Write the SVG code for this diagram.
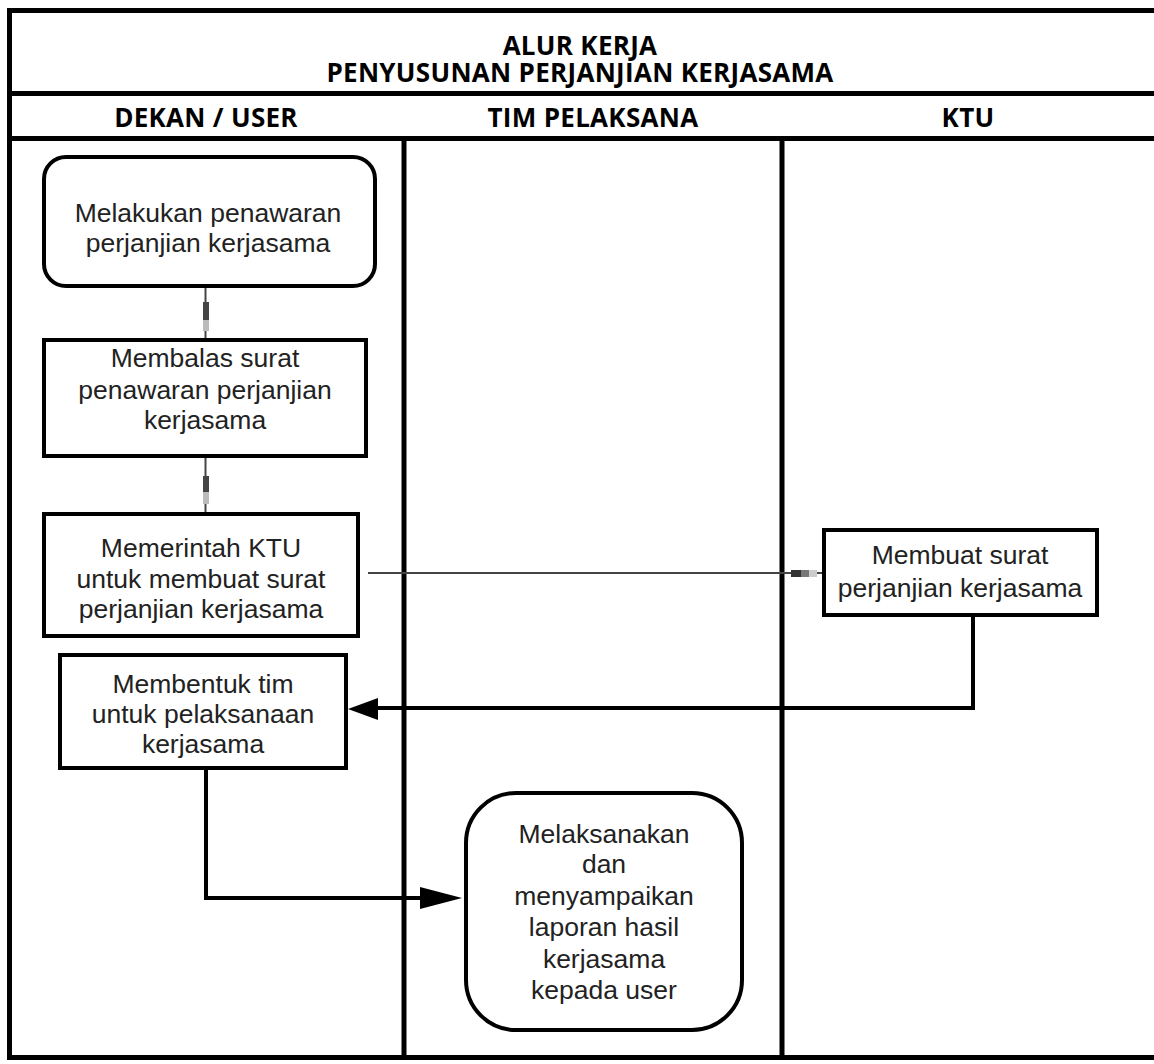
<svg xmlns="http://www.w3.org/2000/svg" width="1154" height="1064" viewBox="0 0 1154 1064">
<style>
.frame{fill:none;stroke:#000;stroke-width:5}
.hd{font-family:"Open Sans","Liberation Sans",sans-serif;font-weight:bold;font-size:26px;letter-spacing:0.3px;fill:#000;text-anchor:middle}
.box{fill:#fff;stroke:#000;stroke-width:4}
.t{font-family:"Liberation Sans",Arial,sans-serif;font-size:26.5px;fill:#222;text-anchor:middle}
.thin{fill:none;stroke:#444;stroke-width:2}
.thick{fill:none;stroke:#000;stroke-width:4}
</style>
<rect width="1154" height="1064" fill="#fff"/>
<g id="table">
<path class="frame" d="M1156,10.5 H9.5 V1057.5 H1156 M9.5,93.5 H1156 M9.5,138.5 H1156 M404,138.5 V1057.5 M782,138.5 V1057.5"/>
<text class="hd" x="580" y="55"><tspan x="580" y="55">ALUR KERJA</tspan><tspan x="580" y="82">PENYUSUNAN PERJANJIAN KERJASAMA</tspan></text>
<text class="hd" x="206" y="127">DEKAN / USER</text>
<text class="hd" x="593" y="127">TIM PELAKSANA</text>
<text class="hd" x="968" y="127">KTU</text>
</g>
<g id="connectors">
<line class="thin" x1="205.5" y1="286" x2="205.5" y2="340"/>
<rect x="203" y="302" width="6" height="18" fill="#444"/>
<rect x="203" y="320" width="6" height="11" fill="#bbb"/>
<line class="thin" x1="205.5" y1="456" x2="205.5" y2="514"/>
<rect x="203" y="476" width="6" height="16" fill="#444"/>
<rect x="203" y="492" width="6" height="12" fill="#bbb"/>
<line class="thin" x1="368" y1="573" x2="824" y2="573"/>
<rect x="791" y="570" width="10" height="7" fill="#333"/>
<rect x="801" y="570" width="8" height="7" fill="#777"/>
<rect x="809" y="570" width="8" height="7" fill="#ccc"/>
<path class="thick" d="M973,615 V708 H376"/>
<polygon points="348,709 378,698 378,720" fill="#000"/>
<path class="thick" d="M206,768 V898 H424"/>
<polygon points="462,898 420,887 420,909" fill="#000"/>
</g>
<g id="n1">
<rect class="box" x="44" y="157" width="331" height="129" rx="22"/>
<text class="t" x="208" y="221.5">Melakukan penawaran</text>
<text class="t" x="208" y="251.5">perjanjian kerjasama</text>
</g>
<g id="n2">
<rect class="box" x="44" y="340" width="322" height="116"/>
<text class="t" x="205" y="366.5">Membalas surat</text>
<text class="t" x="205" y="398.5">penawaran perjanjian</text>
<text class="t" x="205" y="428.5">kerjasama</text>
</g>
<g id="n3">
<rect class="box" x="44" y="514" width="314" height="122"/>
<text class="t" x="201" y="556.5">Memerintah KTU</text>
<text class="t" x="201" y="587.5">untuk membuat surat</text>
<text class="t" x="201" y="617.5">perjanjian kerjasama</text>
</g>
<g id="n4">
<rect class="box" x="60" y="655" width="286" height="113"/>
<text class="t" x="203" y="692.5">Membentuk tim</text>
<text class="t" x="203" y="722.5">untuk pelaksanaan</text>
<text class="t" x="203" y="752.5">kerjasama</text>
</g>
<g id="n_ktu">
<rect class="box" x="824" y="530" width="273" height="85"/>
<text class="t" x="960" y="563.5">Membuat surat</text>
<text class="t" x="960" y="596.5">perjanjian kerjasama</text>
</g>
<g id="n5">
<rect class="box" x="466" y="793" width="276" height="237" rx="50"/>
<text class="t" x="604" y="842.5">Melaksanakan</text>
<text class="t" x="604" y="872.5">dan</text>
<text class="t" x="604" y="904.5">menyampaikan</text>
<text class="t" x="604" y="935.5">laporan hasil</text>
<text class="t" x="604" y="967.5">kerjasama</text>
<text class="t" x="604" y="998.5">kepada user</text>
</g>
</svg>
